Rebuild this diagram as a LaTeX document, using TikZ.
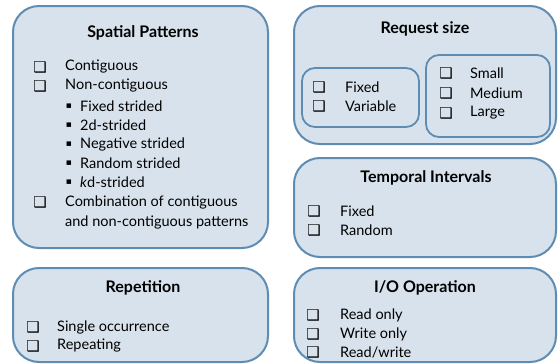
\documentclass[tikz,border=0pt]{standalone}
\usepackage{fontspec}
\setmainfont{Lato}
\newfontfamily\symfont{DejaVu Sans}
\definecolor{boxfill}{HTML}{D7E2EC}
\definecolor{boxline}{HTML}{5F8CB2}

\begin{document}
\begin{tikzpicture}
    [%%%%%%%%%%%%%%%%%%%%%%%%%%%%%%
        x=1pt,y=-1pt,
        panel/.style={draw=boxline,fill=boxfill,line width=2pt,rounded corners=26pt},
        subpanel/.style={draw=boxline,line width=1.8pt,rounded corners=13pt},
        title/.style={inner sep=0pt,font=\fontsize{16}{18}\selectfont\bfseries},
        item/.style={anchor=west,inner sep=0pt,font=\fontsize{14.5}{17}\selectfont},
        chk/.style={inner sep=0pt,font=\symfont\fontsize{15}{16}\selectfont},
        dot/.style={inner sep=0pt,font=\symfont\fontsize{9}{10}\selectfont},
    ]%%%%%%%%%%%%%%%%%%%%%%%%%%%%%%

\useasboundingbox (0,0) rectangle (558,364);

% panels
\draw[panel] (13,6) rectangle (268,248);
\draw[panel] (294,6) rectangle (556,144);
\draw[panel] (294,158) rectangle (556,257);
\draw[panel] (13,268) rectangle (268,362);
\draw[panel] (294,268) rectangle (556,362);

\draw[subpanel] (302,68) rectangle (419,127);
\draw[subpanel] (426,55) rectangle (550,137);

% titles
\node[title] (spatial) at (143,33) {Spatial Patterns};
\node[title] (reqsize) at (425,29) {Request size};
\node[title] (temporal) at (426,178) {Temporal Intervals};
\node[title] (repetition) at (143,288) {Repetition};
\node[title] (ioop) at (425,288) {I/O Operation};

% spatial patterns
\foreach \txt [count=\i] in {Contiguous,Non-contiguous}{
    \node[chk] (sbox\i) at (40,48+19*\i) {❑};
    \node[item] (sitem\i) at (65,48+19*\i) {\txt};
}
\foreach \txt [count=\i] in {Fixed strided,2d-strided,Negative strided,Random strided,\textit{k}d-strided}{
    \node[dot] (sdot\i) at (69,87+19*\i) {▪};
    \node[item] (ssub\i) at (80,87+19*\i) {\txt};
}
\node[chk] (sbox3) at (40,202) {❑};
\node[item] (sitem3) at (65,202) {Combination of contiguous};
\node[item] (sitem4) at (65,222) {and non-contiguous patterns};

% request size
\foreach \txt [count=\i] in {Fixed,Variable}{
    \node[chk] (rbox\i) at (319,68+19*\i) {❑};
    \node[item] (ritem\i) at (345,68+19*\i) {\txt};
}
\foreach \txt [count=\i] in {Small,Medium,Large}{
    \node[chk] (qbox\i) at (446,53+20*\i) {❑};
    \node[item] (qitem\i) at (470,53+20*\i) {\txt};
}

% temporal intervals
\foreach \txt [count=\i] in {Fixed,Random}{
    \node[chk] (tbox\i) at (314,192+19*\i) {❑};
    \node[item] (titem\i) at (340,192+19*\i) {\txt};
}

% repetition
\foreach \txt [count=\i] in {Single occurrence,Repeating}{
    \node[chk] (pbox\i) at (33,308+19*\i) {❑};
    \node[item] (pitem\i) at (57,308+19*\i) {\txt};
}

% i/o operation
\foreach \txt [count=\i] in {Read only,Write only,Read/write}{
    \node[chk] (obox\i) at (313,297+18.5*\i) {❑};
    \node[item] (oitem\i) at (340,297+18.5*\i) {\txt};
}
\end{tikzpicture}
\end{document}
